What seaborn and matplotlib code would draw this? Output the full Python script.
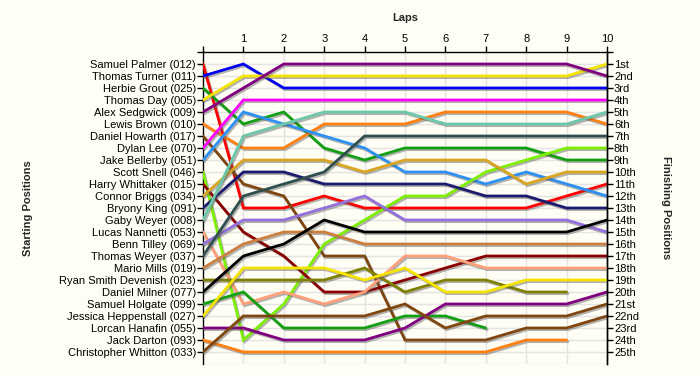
import numpy as np
import pandas as pd
import matplotlib
matplotlib.use("Agg")
import matplotlib.pyplot as plt
import matplotlib.patheffects as pe
import seaborn as sns

laps = list(range(0, 11))

drivers = [
    "Samuel Palmer (012)", "Thomas Turner (011)", "Herbie Grout (025)",
    "Thomas Day (005)", "Alex Sedgwick (009)", "Lewis Brown (010)",
    "Daniel Howarth (017)", "Dylan Lee (070)", "Jake Bellerby (051)",
    "Scott Snell (046)", "Harry Whittaker (015)", "Connor Briggs (034)",
    "Bryony King (091)", "Gaby Weyer (008)", "Lucas Nannetti (053)",
    "Benn Tilley (069)", "Thomas Weyer (037)", "Mario Mills (019)",
    "Ryan Smith Devenish (023)", "Daniel Milner (077)", "Samuel Holgate (099)",
    "Jessica Heppenstall (027)", "Lorcan Hanafin (055)", "Jack Darton (093)",
    "Christopher Whitton (033)",
]

colors = [
    "#FF0000", "#0000F0", "#12A012", "#F5E400", "#800080",
    "#FF8010", "#80460F", "#FF00FF", "#2C90F5", "#7CF000",
    "#8B0000", "#DAA520", "#1A1A6E", "#6CC8AA", "#FFA07A",
    "#9370DB", "#2F4F4F", "#CD7F3F", "#808000", "#000000",
    "#12A012", "#F5E400", "#800080", "#FF8010", "#80460F",
]

nan = np.nan
# position of each driver (in starting order) at laps 0..10
positions = [
    [1, 13, 13, 12, 13, 13, 13, 13, 13, 12, 11],
    [2, 1, 3, 3, 3, 3, 3, 3, 3, 3, 3],
    [3, 6, 5, 8, 9, 8, 8, 8, 8, 9, 9],
    [4, 2, 2, 2, 2, 2, 2, 2, 2, 2, 1],
    [5, 3, 1, 1, 1, 1, 1, 1, 1, 1, 2],
    [6, 8, 8, 6, 6, 6, 5, 5, 5, 5, 6],
    [7, 11, 12, 17, 17, 24, 24, 24, 23, 23, 22],
    [8, 4, 4, 4, 4, 4, 4, 4, 4, 4, 4],
    [9, 5, 6, 7, 8, 10, 10, 11, 10, 11, 12],
    [10, 24, 21, 16, 14, 12, 12, 10, 9, 8, 8],
    [11, 15, 17, 20, 20, 19, 18, 17, 17, 17, 17],
    [12, 9, 9, 9, 10, 9, 9, 9, 11, 10, 10],
    [13, 10, 10, 11, 11, 11, 11, 12, 12, 13, 13],
    [14, 7, 6, 5, 5, 5, 6, 6, 6, 6, 5],
    [15, 21, 20, 21, 20, 17, 17, 18, 18, 18, 18],
    [16, 14, 14, 13, 12, 14, 14, 14, 14, 14, 15],
    [17, 12, 11, 10, 7, 7, 7, 7, 7, 7, 7],
    [18, 16, 15, 15, 16, 16, 16, 16, 16, 16, 16],
    [19, 19, 19, 19, 18, 20, 19, 19, 20, 20, nan],
    [20, 17, 16, 14, 15, 15, 15, 15, 15, 15, 14],
    [21, 20, 23, 23, 23, 22, 22, 23, nan, nan, nan],
    [22, 18, 18, 18, 19, 18, 20, 20, 19, 19, 19],
    [23, 23, 24, 24, 24, 23, 21, 21, 21, 21, 20],
    [24, 25, 25, 25, 25, 25, 25, 25, 24, 24, nan],
    [25, 22, 22, 22, 22, 21, 23, 22, 22, 22, 21],
]

finish_labels = ["1st", "2nd", "3rd", "4th", "5th", "6th", "7th", "8th", "9th",
                 "10th", "11th", "12th", "13th", "14th", "15th", "16th", "17th",
                 "18th", "19th", "20th", "21st", "22nd", "23rd", "24th", "25th"]

rows = []
for d, pos in zip(drivers, positions):
    for lap, p in zip(laps, pos):
        if not np.isnan(p):
            rows.append({"driver": d, "lap": lap, "pos": p})
df = pd.DataFrame(rows)

sns.set_style("white")
plt.rcParams["font.family"] = ["Liberation Sans", "DejaVu Sans"]

bg = "#FFFEF4"
fig = plt.figure(figsize=(7, 3.75), dpi=100, facecolor=bg)
ax = fig.add_axes([203 / 700, 1 - 364 / 375, (607 - 203) / 700, (364 - 52) / 375])
ax.set_facecolor(bg)

sns.lineplot(data=df, x="lap", y="pos", hue="driver", hue_order=drivers,
             palette=dict(zip(drivers, colors)), estimator=None, sort=False,
             linewidth=2.0, legend=False, ax=ax, zorder=3)

for ln in ax.lines:
    ln.set_path_effects([
        pe.SimpleLineShadow(offset=(1.0, -1.2), shadow_color="0.35", alpha=0.45),
        pe.Normal(),
    ])
    ln.set_solid_joinstyle("miter")

ax.set_xlim(0, 10)
ax.set_ylim(26, 0)

# grid
for x in range(1, 11):
    ax.axvline(x, color="#E4E4E4", lw=1.0, zorder=1)
for y in range(1, 27):
    ax.axhline(y, color="#E4E4E4", lw=1.0, zorder=1)

# spines
for s in ["left", "top", "right"]:
    ax.spines[s].set_visible(True)
    ax.spines[s].set_color("black")
    ax.spines[s].set_linewidth(1.0)
ax.spines["bottom"].set_visible(False)

ax.xaxis.tick_top()
ax.xaxis.set_label_position("top")
ax.set_xticks(laps)
ax.set_xticklabels([""] + [str(l) for l in laps[1:]], fontsize=8)
ax.tick_params(axis="x", which="both", direction="out", length=4, width=1,
               pad=2, top=True, bottom=False, colors="black")

ax.set_yticks(range(0, 26))
ax.set_yticklabels([""] + drivers, fontsize=8)
ax.tick_params(axis="y", direction="out", length=4, width=1, pad=1,
               left=True, right=False, colors="black")
ax.set_xlabel("")
ax.set_ylabel("")

ax2 = ax.twinx()
ax2.set_ylim(26, 0)
ax2.set_yticks(range(0, 26))
ax2.set_yticklabels([""] + finish_labels, fontsize=8)
ax2.tick_params(axis="y", direction="out", length=4, width=1, pad=1,
                right=True, left=False, colors="black")
for s in ["left", "top", "bottom"]:
    ax2.spines[s].set_visible(False)
ax2.spines["right"].set_color("black")
ax2.spines["right"].set_linewidth(1.0)

fig.text(405 / 700, 1 - 18 / 375, "Laps", ha="center", va="center",
         fontsize=8, fontweight="bold")
fig.text(28 / 700, 1 - 208 / 375, "Starting Positions", ha="center",
         va="center", rotation=90, fontsize=8, fontweight="bold")
fig.text(666 / 700, 1 - 208 / 375, "Finishing Positions", ha="center",
         va="center", rotation=270, fontsize=8, fontweight="bold")

fig.savefig("out.png", dpi=100, facecolor=bg)
